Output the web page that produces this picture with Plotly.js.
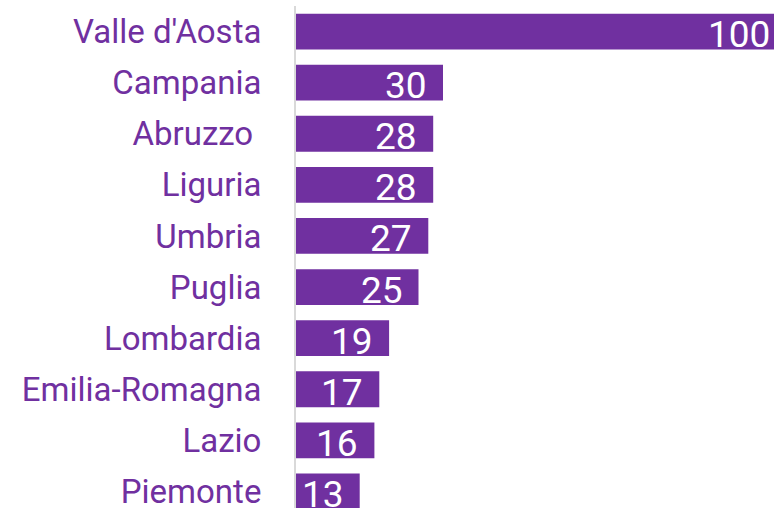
<!DOCTYPE html>
<html><head><meta charset="utf-8">
<script src="https://cdn.plot.ly/plotly-3.0.1.min.js"></script>
<style>html,body{margin:0;padding:0;background:#fff;overflow:hidden;width:774px;height:508px}#chart{width:790px;height:517px}</style>
</head><body><div id="chart"></div>
<script>
const regions = ["Valle d'Aosta","Campania","Abruzzo ","Liguria","Umbria","Puglia","Lombardia","Emilia-Romagna","Lazio","Piemonte"];
const values = [100,30,28,28,27,25,19,17,16,13];
const purple = '#7030A0';

const trace = {
  type: 'bar', orientation: 'h',
  x: values, y: regions,
  marker: {color: purple},
  width: 0.7,
  hoverinfo: 'none'
};
const annotations = values.map((v, i) => ({
  x: v, y: regions[i], xref: 'x', yref: 'y',
  text: String(v), showarrow: false,
  xanchor: 'right', xshift: -14, yshift: -3,
  font: {family: 'Roboto', size: 37, color: '#ffffff'}
}));
const layout = {
  width: 790, height: 517,
  margin: {l: 296, r: 4, t: 6, b: 0},
  paper_bgcolor: '#fff', plot_bgcolor: '#fff',
  showlegend: false,
  xaxis: {range: [0, 100], visible: false, fixedrange: true},
  yaxis: {
    type: 'category', range: [9.5, -0.5],
    showline: true, linecolor: '#d9d9d9', linewidth: 2,
    showgrid: false, zeroline: false, ticks: '',
    ticklabelstandoff: 26,
    tickfont: {family: 'Roboto', size: 33, color: purple}
  },
  annotations: annotations
};
Plotly.newPlot('chart', [trace], layout, {staticPlot: true, displayModeBar: false});
</script></body></html>
